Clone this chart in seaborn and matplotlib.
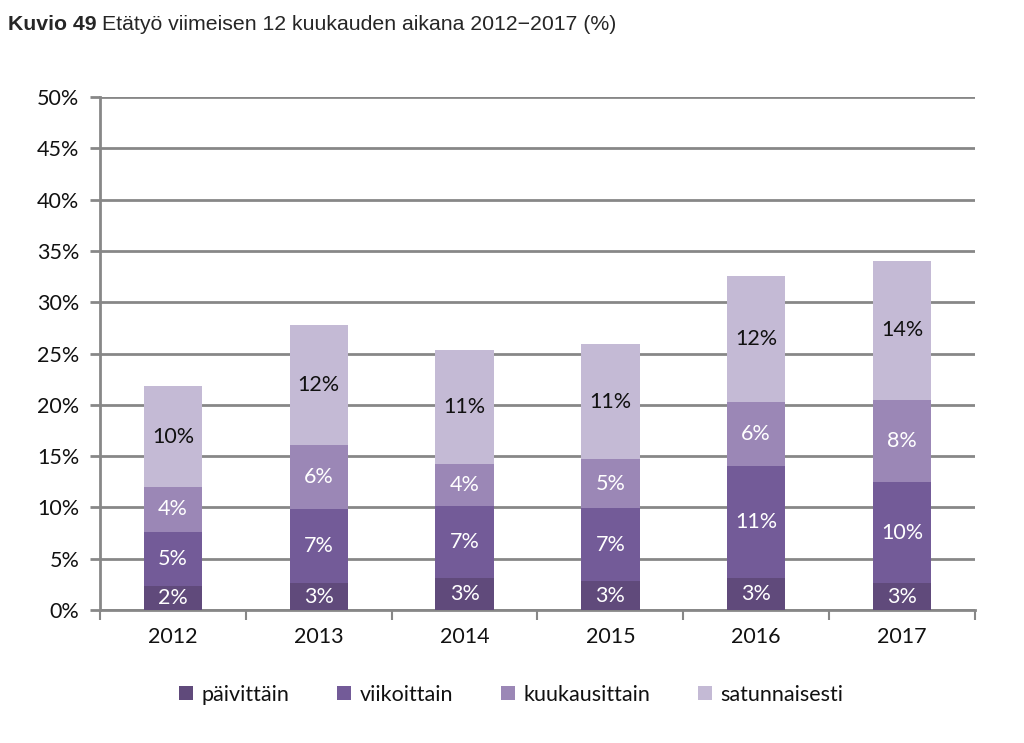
import matplotlib
matplotlib.use("Agg")
import matplotlib.pyplot as plt
import seaborn as sns
import numpy as np
import pandas as pd
from matplotlib.ticker import FuncFormatter, FixedLocator

sns.set_theme(style="white")
plt.rcParams['font.family'] = ['Lato', 'DejaVu Sans']

# data (%)
vuodet = ['2012', '2013', '2014', '2015', '2016', '2017']
sarjat = ['päivittäin', 'viikoittain', 'kuukausittain', 'satunnaisesti']
paivittain = [2.3, 2.6, 3.1, 2.8, 3.1, 2.6]
viikoittain = [5.3, 7.2, 7.0, 7.1, 10.9, 9.9]
kuukausittain = [4.4, 6.3, 4.1, 4.8, 6.3, 8.0]
satunnaisesti = [9.8, 11.7, 11.1, 11.2, 12.3, 13.5]
varit = ['#604a7b', '#735b98', '#9b87b6', '#c4bad5']
tekstivarit = ['white', 'white', 'white', '#111111']

df = pd.DataFrame({'vuosi': vuodet, 'päivittäin': paivittain, 'viikoittain': viikoittain,
                   'kuukausittain': kuukausittain, 'satunnaisesti': satunnaisesti})

fig = plt.figure(figsize=(10.24, 7.43), dpi=100)
ax = fig.add_axes([100/1024, 1-610/743, 875/1024, 513/743])

pohja = np.zeros(len(vuodet))
for s, c, tc in zip(sarjat, varit, tekstivarit):
    sns.barplot(data=df, x='vuosi', y=s, bottom=pohja, color=c, width=0.4,
                ax=ax, label=s, zorder=3, saturation=1, linewidth=0)
    for i, v in enumerate(df[s]):
        ax.text(i, pohja[i] + v/2, f'{v:.0f}%', ha='center', va='center',
                color=tc, fontsize=15.5, zorder=4)
    pohja = pohja + df[s].values

ax.set_ylim(0, 50)
ax.set_xlim(-0.5, 5.5)
ax.set_yticks(np.arange(0, 51, 5))
ax.yaxis.set_major_formatter(FuncFormatter(lambda v, p: f'{v:.0f}%'))
ax.grid(axis='y', color='#878787', linewidth=2, zorder=1)
ax.set_xlabel('')
ax.set_ylabel('')
for sp in ['top', 'right']:
    ax.spines[sp].set_visible(False)
for sp in ['left', 'bottom']:
    ax.spines[sp].set_color('#878787')
    ax.spines[sp].set_linewidth(2)
ax.tick_params(axis='y', length=7, width=2, color='#878787', left=True, labelsize=15.5,
               pad=8, labelcolor='#111111')
ax.tick_params(axis='x', which='major', length=0, labelsize=15.5, pad=12, labelcolor='#111111')
ax.xaxis.set_minor_locator(FixedLocator(np.arange(-0.5, 6, 1)))
ax.tick_params(axis='x', which='minor', length=7, width=1.5, color='#878787', bottom=True)

leg = ax.legend(loc='center', bbox_to_anchor=(0.47, -0.165), ncol=4, frameon=False,
                fontsize=15.5, handlelength=0.65, handleheight=0.65, handletextpad=0.4,
                columnspacing=2.2)
for t in leg.get_texts():
    t.set_color('#111111')

t1 = fig.text(8/1024, 1-25/743, 'Kuvio 49', fontsize=15.3, fontweight='bold',
              family=['Liberation Sans Narrow', 'Liberation Sans', 'DejaVu Sans'], va='center')
fig.canvas.draw()
bb = t1.get_window_extent()
fig.text((bb.x1 + 5)/1024, 1-25/743, 'Etätyö viimeisen 12 kuukauden aikana 2012\u22122017 (%)',
         fontsize=15.3, family=['Liberation Sans Narrow', 'Liberation Sans', 'DejaVu Sans'], va='center')

fig.savefig('out.png', dpi=100)
